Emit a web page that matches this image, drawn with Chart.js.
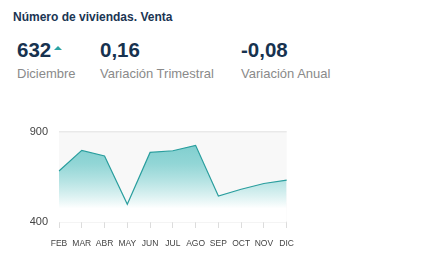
<!DOCTYPE html>
<html>
<head>
<meta charset="utf-8">
<script src="https://cdn.jsdelivr.net/npm/chart.js@4/dist/chart.umd.min.js"></script>
<style>
  html, body { margin: 0; padding: 0; background: #fff; }
  body { width: 437px; height: 264px; position: relative; overflow: hidden; font-family: "Liberation Sans", Arial, sans-serif; }
  .titulo { position: absolute; left: 13px; top: 10px; font-size: 12px; font-weight: bold; color: #1b3553; }
  .kpi { position: absolute; top: 37px; }
  .kpi .valor { font-size: 20.5px; font-weight: bold; color: #17324f; line-height: 26px; }
  .kpi .etq { font-size: 13px; color: #8a8a8a; line-height: 18px; margin-top: 2px; }
  .flecha { display: inline-block; width: 0; height: 0; border-left: 4px solid transparent; border-right: 4px solid transparent; border-bottom: 4px solid #2aa3a3; vertical-align: top; margin-top: 9px; margin-left: 3px; }
  #wrap { position: absolute; left: 0; top: 114px; width: 305px; height: 139px; }
</style>
</head>
<body>
<div class="titulo">Número de viviendas. Venta</div>
<div class="kpi" style="left:17px"><div class="valor">632<span class="flecha"></span></div><div class="etq">Diciembre</div></div>
<div class="kpi" style="left:100px"><div class="valor">0,16</div><div class="etq">Variación Trimestral</div></div>
<div class="kpi" style="left:241px"><div class="valor">-0,08</div><div class="etq">Variación Anual</div></div>
<div id="wrap"><canvas id="grafico"></canvas></div>
<script>
// datos
const meses = ['FEB', 'MAR', 'ABR', 'MAY', 'JUN', 'JUL', 'AGO', 'SEP', 'OCT', 'NOV', 'DIC'];
const viviendas = [682, 796, 765, 498, 785, 794, 824, 544, 581, 613, 632];
const ticksY = [400, 900];

// fondo gris del area del grafico
const fondoArea = {
    id: 'fondoArea',
    beforeDraw(chart) {
        const a = chart.chartArea;
        const ctx = chart.ctx;
        ctx.save();
        ctx.fillStyle = '#f8f8f8';
        ctx.fillRect(a.left, a.top, a.right - a.left, a.bottom - a.top);
        ctx.restore();
    }
};

const ctx = document.getElementById('grafico').getContext('2d');
new Chart(ctx, {
    type: 'line',
    data: {
        labels: meses,
        datasets: [{
            data: viviendas,
            borderColor: '#2a9e9e',
            borderWidth: 1.2,
            pointRadius: 0,
            tension: 0,
            fill: 'start',
            backgroundColor: function (c) {
                const a = c.chart.chartArea;
                if (!a) return 'rgba(110,200,200,0.8)';
                const g = c.chart.ctx.createLinearGradient(0, a.top, 0, a.bottom);
                g.addColorStop(0, 'rgba(100,196,196,0.9)');
                g.addColorStop(0.35, 'rgba(120,205,205,0.8)');
                g.addColorStop(0.85, 'rgba(255,255,255,1)');
                g.addColorStop(1, 'rgba(255,255,255,1)');
                return g;
            }
        }]
    },
    options: {
        responsive: true,
        maintainAspectRatio: false,
        animation: false,
        layout: { padding: { top: 8, right: 14, left: 0, bottom: 0 } },
        plugins: { legend: { display: false }, tooltip: { enabled: false } },
        scales: {
            x: {
                border: { display: false },
                grid: { drawOnChartArea: false, drawTicks: true, tickLength: 6, color: '#dcdcdc' },
                ticks: { color: '#444', font: { size: 8.5, family: 'Liberation Sans' }, padding: 11, maxRotation: 0, autoSkip: false },
                afterFit: function (s) { s.height = 31; }
            },
            y: {
                min: 400,
                max: 900,
                border: { display: false },
                grid: { color: '#e9e9e9', lineWidth: 1.5, drawTicks: false },
                afterBuildTicks: function (s) { s.ticks = ticksY.map(v => ({ value: v })); },
                ticks: { color: '#444', font: { size: 11, family: 'Liberation Sans' }, padding: 11 },
                afterFit: function (s) { s.width = 59; }
            }
        }
    },
    plugins: [fondoArea]
});
</script>
</body>
</html>
